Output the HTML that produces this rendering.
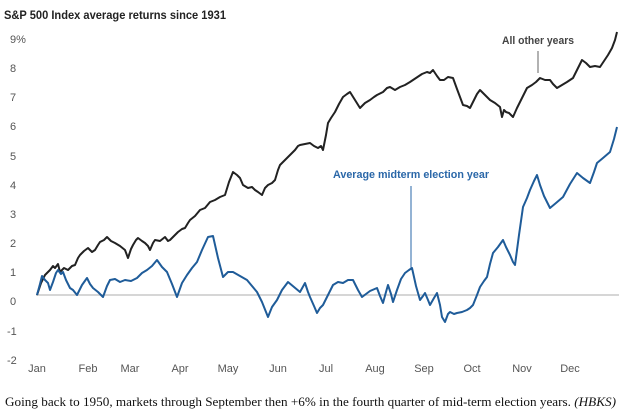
<!DOCTYPE html>
<html><head><meta charset="utf-8"><style>
body{margin:0;background:#fff;width:624px;height:420px;overflow:hidden;font-family:"Liberation Sans",sans-serif}
</style></head><body>
<svg width="624" height="420" xmlns="http://www.w3.org/2000/svg" style="position:absolute;left:0;top:0">
<text x="4" y="19" font-size="12" font-weight="bold" fill="#222" textLength="222" lengthAdjust="spacingAndGlyphs">S&amp;P 500 Index average returns since 1931</text>
<g font-size="11" fill="#555" text-anchor="start">
<text x="10" y="43">9%</text><text x="10" y="72">8</text><text x="10" y="101">7</text><text x="10" y="130">6</text><text x="10" y="160">5</text><text x="10" y="189">4</text><text x="10" y="218">3</text><text x="10" y="247">2</text><text x="10" y="276">1</text><text x="10" y="305">0</text><text x="7" y="335">-1</text><text x="7" y="364">-2</text>
</g>
<g font-size="11" fill="#555" text-anchor="middle">
<text x="37" y="372">Jan</text><text x="88" y="372">Feb</text><text x="130" y="372">Mar</text><text x="180" y="372">Apr</text><text x="228" y="372">May</text><text x="278" y="372">Jun</text><text x="326" y="372">Jul</text><text x="375" y="372">Aug</text><text x="424" y="372">Sep</text><text x="472" y="372">Oct</text><text x="522" y="372">Nov</text><text x="570" y="372">Dec</text>
</g>
<line x1="36" y1="295" x2="619" y2="295" stroke="#c8c8c8" stroke-width="1.5"/>
<polyline fill="none" stroke="#222" stroke-width="2" stroke-linejoin="round" points="37,295 41,283 45,275 48,272 50,270 53,266 55,268 58,264 60,272 64,268 68,270 72,266 75,265 78,258 80,255 84,251 88,248 92,252 95,250 98,245 100,242 104,240 107,237 111,241 115,243 120,246 125,250 128,258 131,249 133,245 136,240 138,238 142,241 145,243 148,246 150,250 153,243 155,240 160,241 165,237 168,241 170,240 174,236 178,232 182,229 185,228 188,223 190,220 195,216 200,210 205,208 210,202 215,200 220,197 225,195 229,182 233,172 237,175 240,178 243,185 248,188 252,187 255,190 258,192 262,195 265,188 268,185 272,183 275,180 278,170 280,165 285,160 290,155 293,152 295,150 298,146 300,145 305,144 310,143 314,146 318,148 321,146 323,150 326,135 328,123 331,118 335,112 339,104 343,97 347,94 350,92 355,100 360,108 365,103 370,100 374,97 377,95 383,92 387,88 390,87 395,90 400,87 405,85 410,82 416,78 422,74 427,72 430,73 433,70 437,76 440,80 444,80 448,77 453,78 457,89 460,97 463,105 467,106 470,108 474,100 477,94 480,90 484,94 487,97 490,100 495,103 500,107 502,117 504,110 506,112 509,113 513,117 517,108 522,98 527,88 532,85 536,82 540,78 545,80 550,80 553,84 557,88 562,85 567,82 573,78 577,70 582,60 586,63 590,67 595,66 600,67 604,61 608,55 612,48 615,40 617,32"/>
<polyline fill="none" stroke="#1f5c99" stroke-width="2" stroke-linejoin="round" points="37,295 40,284 42,276 45,280 48,283 50,290 53,282 56,273 58,270 61,274 63,272 66,280 70,288 73,290 77,295 82,285 87,278 90,284 93,288 98,292 103,297 107,286 110,280 115,279 120,282 125,280 131,281 137,278 142,273 147,270 152,266 157,260 162,267 167,272 172,284 177,297 182,283 187,275 192,268 197,262 202,250 208,237 213,236 218,258 223,277 228,272 233,272 240,276 247,280 252,286 257,292 262,302 268,317 272,307 277,300 282,290 288,282 294,287 300,292 305,283 308,292 310,297 314,306 317,313 320,308 323,305 328,295 333,285 338,282 343,283 348,280 353,280 358,290 362,297 370,291 377,288 380,296 383,303 386,292 388,285 391,294 393,302 397,290 401,279 405,273 409,270 412,268 416,286 420,300 423,296 425,293 428,300 430,305 434,298 437,293 440,305 442,317 445,322 448,314 450,312 454,314 457,313 462,312 467,310 470,308 473,305 477,295 480,287 484,281 487,277 490,264 493,253 498,247 503,240 506,247 510,255 513,262 515,265 519,235 523,207 527,198 530,190 534,181 537,175 540,185 544,196 550,208 556,203 563,197 570,184 577,173 583,178 590,183 594,172 597,163 603,158 610,152 614,139 617,127"/>
<text x="502" y="44" font-size="11" font-weight="bold" fill="#444" textLength="72" lengthAdjust="spacingAndGlyphs">All other years</text>
<line x1="538" y1="51" x2="538" y2="73" stroke="#666" stroke-width="1"/>
<text x="333" y="178" font-size="11" font-weight="bold" fill="#2a67a8" textLength="156" lengthAdjust="spacingAndGlyphs">Average midterm election year</text>
<line x1="411" y1="186" x2="411" y2="268" stroke="#2a67a8" stroke-width="1"/>
<text x="5" y="406" font-family="Liberation Serif,serif" font-size="13" fill="#111" textLength="611" lengthAdjust="spacingAndGlyphs">Going back to 1950, markets through September then +6% in the fourth quarter of mid-term election years. <tspan font-style="italic">(HBKS)</tspan></text>
</svg>
</body></html>
